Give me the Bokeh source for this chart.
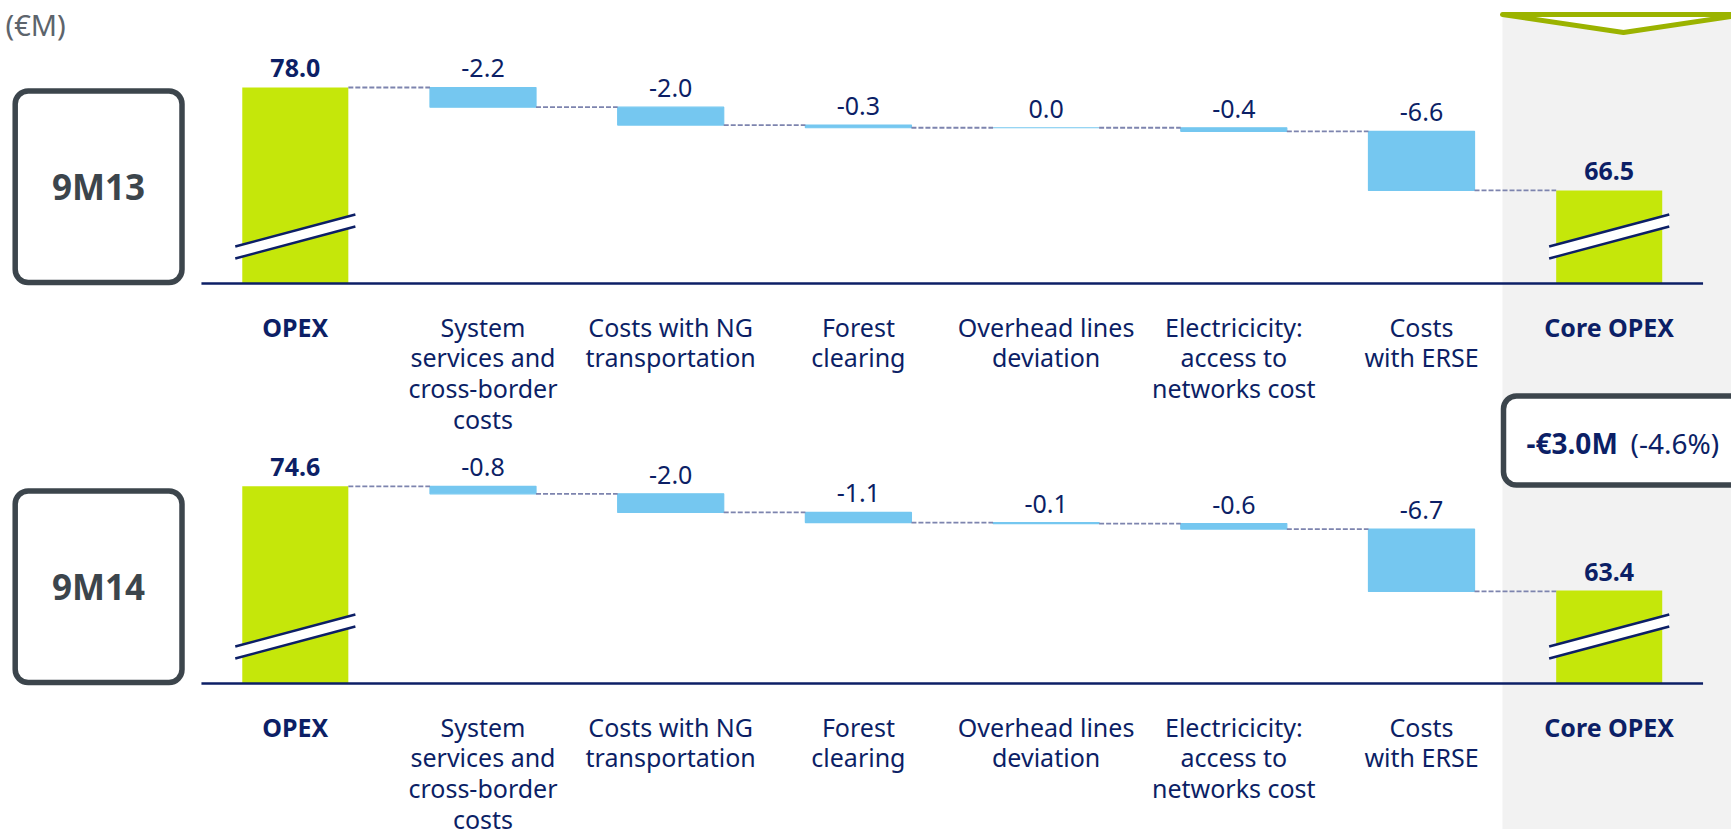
from bokeh.plotting import figure
from bokeh.models import Range1d
from bokeh.core.properties import value
from bokeh.embed import file_html
from bokeh.resources import INLINE

# ---------------- data ----------------
category_labels = [
    "OPEX",
    "System\nservices and\ncross-border\ncosts",
    "Costs with NG\ntransportation",
    "Forest\nclearing",
    "Overhead lines\ndeviation",
    "Electricicity:\naccess to\nnetworks cost",
    "Costs\nwith ERSE",
    "Core OPEX",
]
periods = ["9M13", "9M14"]
opex_start = [78.0, 74.6]
deltas_9m13 = [-2.2, -2.0, -0.3, 0.0, -0.4, -6.6]
deltas_9m14 = [-0.8, -2.0, -1.1, -0.1, -0.6, -6.7]
core_opex = [66.5, 63.4]
change_abs = "-€3.0M"
change_pct = "(-4.6%)"
unit_label = "(€M)"

# ---------------- style / layout ----------------
W, H = 1731, 829
OFF = 0
FONT = value("Noto Sans")
NAVY = "#0c1f66"
GREEN = "#c5e70a"
BLUE = "#75c7f0"
DASH = "#7d84ae"
GREY_BOX = "#3c454c"
BG = "#f2f2f2"
CHEV = "#9bb300"

slot = 187.7
first_center = 294.8
bar_w = 0.565
label_gap = 19  # px between bar top and value label centre
line_step = 30.7

# panel: (range name, broken-axis base value, px per unit, baseline y in page px)
panels = [
    ("default", 56.1, 8.95, 283.0),
    ("b", 53.4, 9.3, 683.0),
]

def yrange(base, ppu, baseline):
    return Range1d(base - (OFF + H - baseline) / ppu, base + (baseline - OFF) / ppu)

xr = Range1d((OFF - first_center) / slot, (OFF + W - first_center) / slot)
p = figure(width=W, height=H, x_range=xr,
           y_range=yrange(*panels[0][1:]),
           output_backend="svg", toolbar_location=None,
           x_axis_location=None, y_axis_location=None,
           min_border=0, outline_line_color=None)
p.grid.visible = False
p.extra_y_ranges = {"b": yrange(*panels[1][1:]), "py": Range1d(OFF + H, OFF)}
p.extra_x_ranges = {"px": Range1d(OFF, OFF + W)}

# gray highlight strip + chevron
p.quad(left=[1502], right=[1780], top=[14], bottom=[840], x_range_name="px", y_range_name="py",
       fill_color=BG, line_color=None)
p.patch(x=[1502, 1744, 1623], y=[14, 14, 32], x_range_name="px", y_range_name="py",
        fill_color="white", line_color=CHEV, line_width=5, line_join="round")

p.text(x=[5], y=[24], text=[unit_label], x_range_name="px", y_range_name="py",
       text_font=FONT, text_font_size="29px", text_color="#5d646c",
       text_align="left", text_baseline="middle")

all_deltas = [deltas_9m13, deltas_9m14]
n = len(category_labels)

for k, (rname, base, ppu, baseline) in enumerate(panels):
    start = opex_start[k]
    deltas = all_deltas[k]
    end = core_opex[k]

    # period box
    p.quad(left=[14.7], right=[181.5], top=[baseline - 192.5], bottom=[baseline - 1],
           x_range_name="px", y_range_name="py", fill_color="white",
           line_color=GREY_BOX, line_width=5.5, border_radius=13)
    p.text(x=[98], y=[baseline - 97], text=[periods[k]], x_range_name="px", y_range_name="py",
           text_font=FONT, text_font_size="35px", text_font_style="bold",
           text_color=GREY_BOX, text_align="center", text_baseline="middle")

    # running totals
    levels = [start]
    for d in deltas:
        levels.append(levels[-1] + d)
    dx = list(range(1, n - 1))
    tops = levels[:-1]
    bots = levels[1:]

    # total bars
    p.vbar(x=[0, n - 1], bottom=base, top=[start, end], width=bar_w,
           fill_color=GREEN, line_color=None, y_range_name=rname)
    # delta bars
    p.vbar(x=dx, bottom=bots, top=tops, width=bar_w, fill_color=BLUE,
           line_color=BLUE, line_width=1.2, y_range_name=rname)

    # connectors
    cx0 = [i + bar_w / 2 for i in range(n - 1)]
    cx1 = [i + 1 - bar_w / 2 for i in range(n - 1)]
    p.segment(x0=cx0, x1=cx1, y0=levels, y1=levels, line_color=DASH,
              line_width=1.8, line_dash="5 2", y_range_name=rname)

    # axis line
    p.segment(x0=[-0.5], x1=[n - 0.5], y0=[base], y1=[base], line_color=NAVY,
              line_width=2.6, y_range_name=rname)

    # break marks on total bars
    for xc in [0, n - 1]:
        xl, xrr = xc - 0.32, xc + 0.32
        lo_l, lo_r, hi_l, hi_r = (base + 25 / ppu, base + 57 / ppu,
                                  base + 37 / ppu, base + 69 / ppu)
        p.patch(x=[xl, xrr, xrr, xl], y=[lo_l, lo_r, hi_r, hi_l], fill_color="white",
                line_color=None, y_range_name=rname)
        p.line(x=[xl, xrr], y=[lo_l, lo_r], line_color=NAVY, line_width=2.4, y_range_name=rname)
        p.line(x=[xl, xrr], y=[hi_l, hi_r], line_color=NAVY, line_width=2.4, y_range_name=rname)

    # value labels (placed a fixed pixel gap above the bar tops)
    gap = label_gap / ppu
    p.text(x=[0, n - 1], y=[start + gap, end + gap], text=[f"{start:.1f}", f"{end:.1f}"],
           text_font=FONT, text_font_size="25px", text_font_style="bold", text_color=NAVY,
           text_align="center", text_baseline="middle", y_range_name=rname)
    p.text(x=dx, y=[t + gap for t in tops], text=[f"{d:.1f}" for d in deltas],
           text_font=FONT, text_font_size="25px", text_color=NAVY,
           text_align="center", text_baseline="middle", y_range_name=rname)

    # category labels (line by line)
    for style, idxs in (("bold", [0, n - 1]), ("normal", list(range(1, n - 1)))):
        xs, ys, ts = [], [], []
        for i in idxs:
            for j, line in enumerate(category_labels[i].split("\n")):
                xs.append(i)
                ys.append(baseline + 43 + line_step * j)
                ts.append(line)
        p.text(x=xs, y=ys, text=ts, y_range_name="py",
               text_font=FONT, text_font_size="25px", text_font_style=style,
               text_color=NAVY, text_align="center", text_baseline="middle")

# change callout
p.quad(left=[1503], right=[1790], top=[395.5], bottom=[484.5], x_range_name="px", y_range_name="py",
       fill_color="white", line_color=GREY_BOX, line_width=5.5, border_radius=13)
p.text(x=[1526], y=[442], text=[change_abs], x_range_name="px", y_range_name="py",
       text_font=FONT, text_font_size="28px", text_font_style="bold", text_color=NAVY,
       text_align="left", text_baseline="middle")
p.text(x=[1630], y=[442], text=[change_pct], x_range_name="px", y_range_name="py",
       text_font=FONT, text_font_size="28px", text_color=NAVY,
       text_align="left", text_baseline="middle")

open("out.html", "w").write(file_html(p, INLINE))
